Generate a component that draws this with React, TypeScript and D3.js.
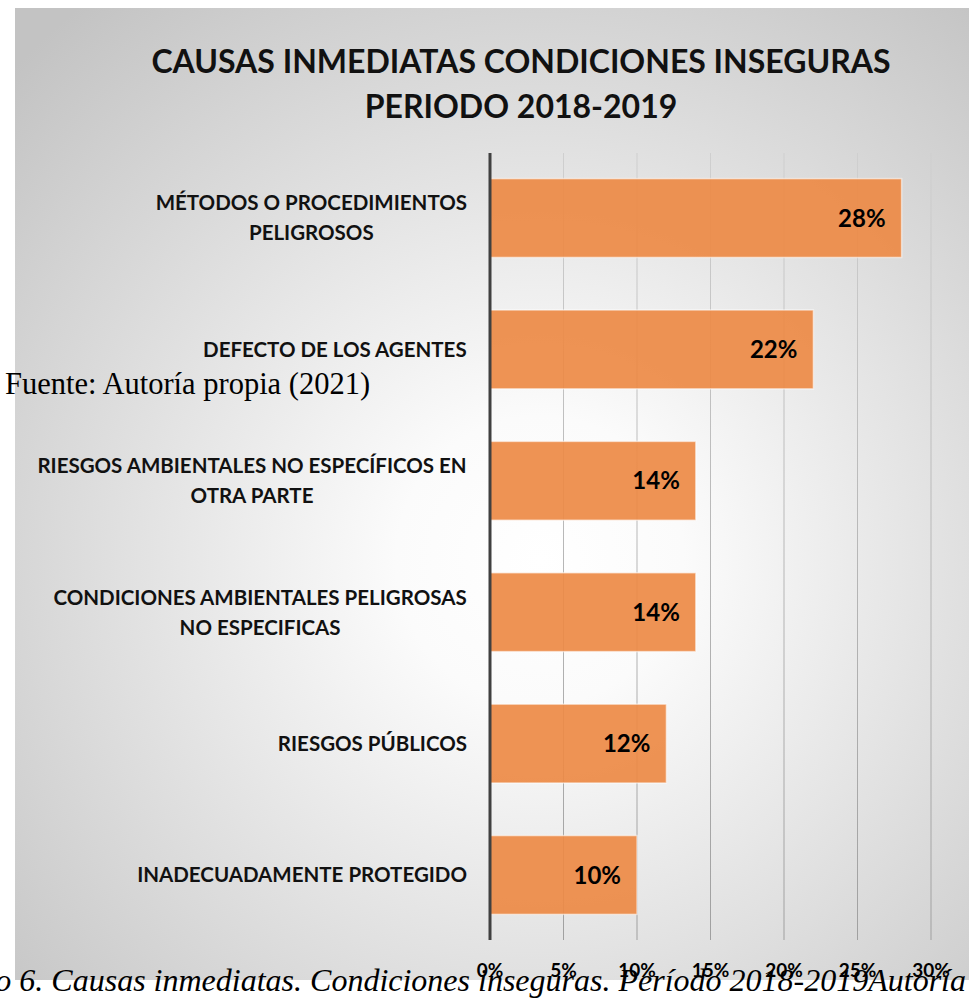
import React from "react";
import * as d3 from "d3";

const categories = [
  ["MÉTODOS O PROCEDIMIENTOS", "PELIGROSOS"],
  ["DEFECTO DE LOS AGENTES"],
  ["RIESGOS AMBIENTALES NO ESPECÍFICOS EN", "OTRA PARTE"],
  ["CONDICIONES AMBIENTALES PELIGROSAS", "NO ESPECIFICAS"],
  ["RIESGOS PÚBLICOS"],
  ["INADECUADAMENTE PROTEGIDO"],
];
const values = [28, 22, 14, 14, 12, 10];
const ticks = [0, 5, 10, 15, 20, 25, 30];
const titleLines = ["CAUSAS INMEDIATAS CONDICIONES INSEGURAS", "PERIODO 2018-2019"];
const sourceText = "Fuente: Autoría propia (2021)";
const captionText = "Gráfico 6.  Causas inmediatas. Condiciones inseguras. Período 2018-2019Autoría";

const W = 969;
const H = 998;
const FONT = "Lato, 'Open Sans', sans-serif";
const LABEL_SIZE = 20.5;

let ctx: CanvasRenderingContext2D | null = null;
function measure(text: string, size: number): number {
  if (!ctx) ctx = document.createElement("canvas").getContext("2d");
  if (!ctx) return text.length * size * 0.6;
  ctx.font = `700 ${size}px Lato, 'Open Sans', sans-serif`;
  return ctx.measureText(text).width;
}

export default function App() {
  const x = d3.scaleLinear().domain([0, 30]).range([490, 931]);
  const y = d3
    .scaleBand<number>()
    .domain(d3.range(categories.length))
    .range([153, 940])
    .paddingInner(0.4)
    .paddingOuter(0.195);
  const bw = y.bandwidth();
  const labelRight = 467;

  return (
    <svg
      width={W}
      height={H}
      style={{ position: "fixed", left: 0, top: 0, background: "#fff" }}
    >
      <defs>
        <radialGradient id="bg" gradientUnits="userSpaceOnUse" cx={540} cy={560} r={720}>
          <stop offset="0" stopColor="#ffffff" />
          <stop offset="0.2" stopColor="#fbfbfb" />
          <stop offset="1" stopColor="#c3c3c3" />
        </radialGradient>
        <linearGradient id="grid" x1="0" y1="0" x2="0" y2="1">
          <stop offset="0" stopColor="#cfcfcf" />
          <stop offset="1" stopColor="#a0a0a0" />
        </linearGradient>
      </defs>
      <rect x={15} y={8} width={W} height={972} fill="url(#bg)" />

      {titleLines.map((t, i) => (
        <text
          key={i}
          x={521}
          y={73 + i * 45}
          textAnchor="middle"
          fontFamily={FONT}
          fontWeight={700}
          fontSize={32}
          fill="#111"
        >
          {t}
        </text>
      ))}

      {ticks.map((t) => (
        <rect
          key={t}
          x={x(t) - 0.5}
          y={153}
          width={1}
          height={787}
          fill="url(#grid)"
        />
      ))}

      {values.map((v, i) => (
        <rect
          key={i}
          x={x(0)}
          y={y(i)!}
          width={x(v) - x(0)}
          height={bw}
          fill="#ED8A45"
          fillOpacity={0.92}
          stroke="rgba(255,255,255,0.55)"
          strokeWidth={1.5}
        />
      ))}

      <line x1={x(0)} x2={x(0)} y1={153} y2={940} stroke="#404040" strokeWidth={3} />

      {values.map((v, i) => (
        <text
          key={i}
          x={x(v) - 16}
          y={y(i)! + bw / 2}
          dy="0.36em"
          textAnchor="end"
          fontFamily={FONT}
          fontWeight={700}
          fontSize={24}
          fill="#000"
        >
          {v}%
        </text>
      ))}

      {categories.map((lines, i) => {
        const cy = y(i)! + bw / 2;
        const maxW = Math.max(...lines.map((l) => measure(l, LABEL_SIZE)));
        const cx = labelRight - maxW / 2;
        return (
          <text
            key={i}
            textAnchor="middle"
            fontFamily={FONT}
            fontWeight={700}
            fontSize={LABEL_SIZE}
            fill="#111"
          >
            {lines.map((l, j) => (
              <tspan
                key={j}
                x={cx}
                y={cy + (j - (lines.length - 1) / 2) * 30}
                dy="0.36em"
              >
                {l}
              </tspan>
            ))}
          </text>
        );
      })}

      {ticks.map((t) => (
        <text
          key={t}
          x={x(t)}
          y={977}
          textAnchor="middle"
          fontFamily={FONT}
          fontWeight={700}
          fontSize={19}
          fill="#000"
        >
          {t}%
        </text>
      ))}

      <text x={5} y={394} fontFamily="'Liberation Serif', 'Times New Roman', serif" fontSize={30.5} fill="#000">
        {sourceText}
      </text>
      <text
        x={966}
        y={991}
        textAnchor="end"
        fontFamily="'Liberation Serif', 'Times New Roman', serif"
        fontStyle="italic"
        fontSize={32}
        fill="#000"
      >
        {captionText}
      </text>
    </svg>
  );
}
